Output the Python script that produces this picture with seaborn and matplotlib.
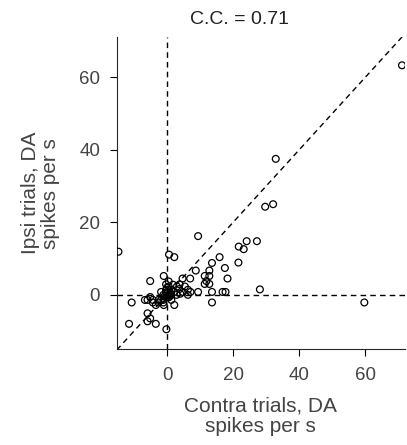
import matplotlib
matplotlib.use("Agg")
import matplotlib.pyplot as plt
import seaborn as sns
import pandas as pd

contra = [71.1, 32.9, 29.7, 32.1, 9.4, -14.7, 27.2, 24.1, 21.7, 23.2, 21.6, 28.1, 59.7,
          15.9, 13.6, 17.5, 18.3, 8.7, 12.8, 11.4, 12.8, 11.9, 12.8, 11.4, 16.8, 17.7,
          13.6, 13.6, 9.4, 7.0, 4.7, 0.6, 2.2, -1.0, -5.1, -10.7, -11.5, -5.9, -5.1,
          -5.9, -3.4, -0.2, -6.7, -5.9, -5.1, -4.3, -3.4, -2.6, -1.0, 2.2, -1.8, 0.5,
          3.8, 3.0, -0.3, 0.5, 5.4, -0.3, 1.3, 2.2, 3.7, 4.8, 6.3, 7.1, 6.3, -1.1, -0.3,
          0.5, 1.3, 2.9, -0.3, -1.1, 1.3, -1.8, -4.3, -2.6, -1.1, 0.5, 1.0, 0.0, 4.0,
          -0.7, 1.8, 0.9]
ipsi = [63.3, 37.5, 24.3, 25.0, 16.2, 11.9, 14.8, 14.8, 13.3, 12.6, 8.9, 1.5, -2.1,
        10.4, 8.8, 7.4, 4.5, 6.7, 6.7, 5.2, 5.2, 3.8, 3.0, 3.0, 0.8, 0.8,
        0.8, -2.1, 0.8, 4.5, 4.5, 11.1, 10.4, 5.2, 3.8, -2.1, -8.0, -5.1, -6.5,
        -7.3, -8.0, -9.5, -1.4, -1.4, -0.6, -2.1, -2.8, -2.1, -2.8, -2.8, 0.8, 3.7,
        2.9, 2.3, 2.9, 2.3, 2.3, 1.4, 1.4, 0.8, 1.6, 0.8, 1.4, 0.8, 0.0, 0.0, -0.7,
        0.0, 0.0, 0.0, 0.6, -1.4, -1.4, -1.4, -1.4, -1.4, -2.1, -0.7, 0.5, 2.0, 0.3,
        -0.3, 2.8, -0.3]
ticks = [0, 20, 40, 60]
title = "C.C. = 0.71"
xlabel = "Contra trials, DA\nspikes per s"
ylabel = "Ipsi trials, DA\nspikes per s"

df = pd.DataFrame({"contra": contra, "ipsi": ipsi})

sns.set_style("ticks")
plt.rcParams['font.family'] = ['Liberation Sans', 'DejaVu Sans']
gray = "#444444"

fig = plt.figure(figsize=(4.07, 4.45), dpi=100)
ax = fig.add_axes([0.287, 0.216, 0.708, 0.70])

lo, hi = -15.2, 72
ax.plot([lo, hi], [lo, hi], ls=(0, (4, 3)), color="black", lw=1, zorder=1)
ax.axvline(0, ls=(0, (4, 3)), color="black", lw=1, zorder=1)
ax.axhline(0, ls=(0, (4, 3)), color="black", lw=1, zorder=1)

sns.scatterplot(data=df, x="contra", y="ipsi", ax=ax, marker="o", s=24,
                facecolor="none", edgecolor="black", linewidth=0.9, zorder=3)

ax.set_xlim(lo, hi)
ax.set_ylim(-14.9, 71)
ax.set_xticks(ticks)
ax.set_yticks(ticks)
ax.tick_params(direction="out", length=5, width=0.8, labelsize=13.5, labelcolor=gray,
               colors="black")
ax.tick_params(axis="x", pad=8)
ax.tick_params(axis="y", pad=7)
for sp in ["top", "right"]:
    ax.spines[sp].set_visible(False)
for sp in ["left", "bottom"]:
    ax.spines[sp].set_linewidth(0.8)

ax.set_xlabel(xlabel, fontsize=15, color=gray, labelpad=9, linespacing=1.1)
ax.set_ylabel(ylabel, fontsize=15, color=gray, labelpad=14, linespacing=1.05)
fig.text(240 / 407, 1 - 20 / 445, title, fontsize=14, color="#222222",
         ha="center", va="center")

fig.savefig("out.png", dpi=100)
